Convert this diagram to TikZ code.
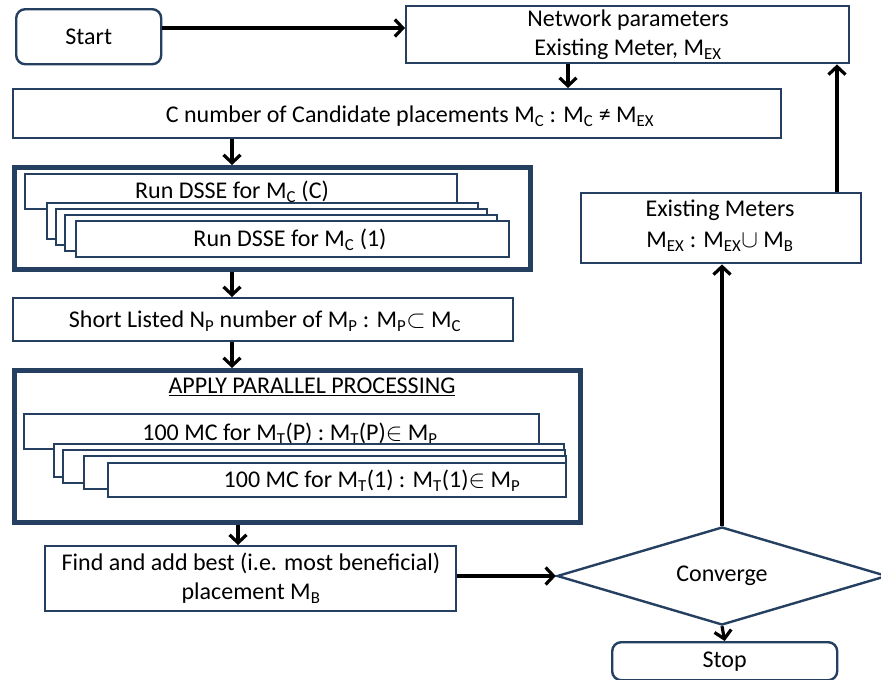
\documentclass[tikz,border=0pt]{standalone}
\usepackage{fontspec}
\setmainfont{Carlito}
\usetikzlibrary{arrows.meta,shapes.geometric}
\definecolor{navy}{HTML}{243F60}
\newcommand\Ms[1]{M\textsubscript{#1}}
\tikzset{
  x=1pt, y=-1pt,
  txt/.style={font=\fontsize{24}{28}\selectfont, inner sep=0pt, align=center},
  box/.style={draw=navy, line width=2.4pt, fill=white, anchor=north west, inner sep=0pt},
  frame/.style={draw=navy, line width=4.5pt, anchor=north west, inner sep=0pt},
  flow/.style={draw=black, line width=3.2pt, -{Straight Barb[length=8pt,width=17pt,line width=3.2pt]}},
}
\begin{document}
\begin{tikzpicture}
\useasboundingbox[fill=white] (0,0) rectangle (881,680);

% top row
\node[box, rounded corners=9pt, minimum width=145pt, minimum height=55pt] (start) at (15,8) {};
\node[txt] (starttxt) at (start.center) {Start};
\node[box, minimum width=443pt, minimum height=57pt] (net) at (405,5) {};
\node[txt] (nettxt) at (628,35) {Network parameters\\[1pt]Existing Meter, \Ms{EX}};

% candidate placements
\node[box, minimum width=768pt, minimum height=49pt] (cbox) at (12,88) {};
\node[txt] (ctxt) at (410,116) {C number of Candidate placements \Ms{C} : \Ms{C} ≠ \Ms{EX}};

% DSSE runs
\node[frame, minimum width=516pt, minimum height=102pt] (dsse) at (12,165) {};
\node[box, minimum width=432pt, minimum height=35pt] (d0) at (24,173) {};
\node[txt] (d0txt) at (232,192) {Run DSSE for \Ms{C} (C)};
\node[box, minimum width=431pt, minimum height=36pt] (d1) at (46,202) {};
\node[box, minimum width=431pt, minimum height=36pt] (d2) at (55,208) {};
\node[box, minimum width=432pt, minimum height=36pt] (d3) at (64,214) {};
\node[box, minimum width=433pt, minimum height=36pt] (d4) at (75,220) {};
\node[txt] (d4txt) at (290,240) {Run DSSE for \Ms{C} (1)};

% short list
\node[box, minimum width=500pt, minimum height=43pt] (short) at (12,297) {};
\node[txt] (shorttxt) at (265,321) {Short Listed N\textsubscript{P} number of \Ms{P} : \Ms{P}$\subset$ \Ms{C}};

% parallel processing
\node[frame, minimum width=566pt, minimum height=152pt] (par) at (12,368) {};
\node[txt] (partxt) at (312,387) {\underline{APPLY PARALLEL PROCESSING}};
\node[box, minimum width=515pt, minimum height=35pt] (p0) at (23,413) {};
\node[txt] (p0txt) at (290,434) {100 MC for \Ms{T}(P) : \Ms{T}(P)$\in$ \Ms{P}};
\node[box, minimum width=510pt, minimum height=33pt] (p1) at (53,443) {};
\node[box, minimum width=502pt, minimum height=33pt] (p2) at (62,449) {};
\node[box, minimum width=482pt, minimum height=33pt] (p3) at (83,455) {};
\node[box, minimum width=458pt, minimum height=34pt] (p4) at (107,462) {};
\node[txt] (p4txt) at (372,481) {100 MC for \Ms{T}(1) : \Ms{T}(1)$\in$ \Ms{P}};

% final choice
\node[box, minimum width=411pt, minimum height=65pt] (find) at (44,545) {};
\node[txt] (findtxt) at (251,578) {Find and add best (i.e. most beneficial)\\[1pt]placement \Ms{B}};

\node[draw=navy, line width=2.4pt, diamond, minimum width=330pt, minimum height=98pt, inner sep=0pt] (conv) at (722,576) {};
\node[txt] (convtxt) at (conv.center) {Converge};

\node[box, rounded corners=9pt, minimum width=225pt, minimum height=38pt] (stop) at (611,641) {};
\node[txt] (stoptxt) at (stop.center) {Stop};

\node[box, minimum width=280pt, minimum height=70pt] (exist) at (580,192) {};
\node[txt] (existtxt) at (720,226) {Existing Meters\\[3pt]\Ms{EX} : \Ms{EX}$\cup$ \Ms{B}};

% connectors
\coordinate (colA) at (232,0);
\coordinate (colB) at (238,0);
\coordinate (colC) at (837,0);
\coordinate (colN) at (568,0);
\draw[flow] (start.east |- 0,28) -- (net.west |- 0,28);
\draw[flow] (colN |- net.south) -- (colN |- cbox.north);
\draw[flow] (colA |- cbox.south) -- (colA |- dsse.north);
\draw[flow] (colA |- dsse.south) -- (colA |- short.north);
\draw[flow] (colA |- short.south) -- (colA |- par.north);
\draw[flow] (colB |- par.south) -- (colB |- find.north);
\draw[flow] (find.east |- conv.west) -- (conv.west);
\draw[flow] (conv.south) -- (stop.north);
\draw[flow] (conv.north) -- (conv.north |- exist.south);
\draw[flow] (colC |- exist.north) -- (colC |- net.south);
\end{tikzpicture}
\end{document}
